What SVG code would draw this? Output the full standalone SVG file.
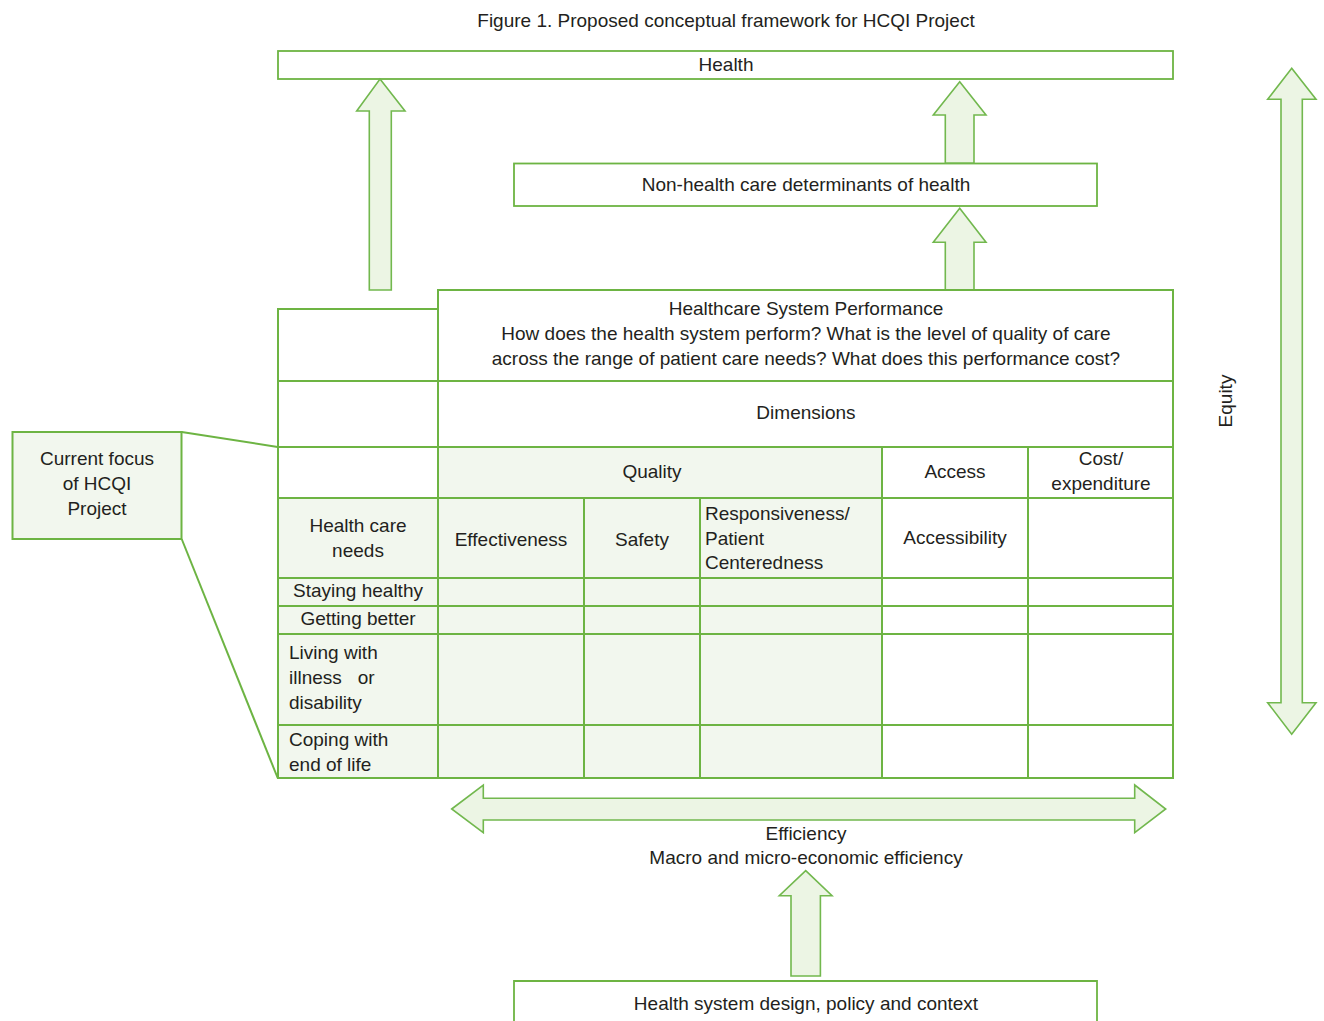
<svg xmlns="http://www.w3.org/2000/svg" width="1324" height="1021" viewBox="0 0 1324 1021">
<style>
text{font-family:"Liberation Sans",Arial,sans-serif;font-size:19px;fill:#231f20}
.c{text-anchor:middle}
.box{fill:#fff;stroke:#6db443;stroke-width:1.8}
.cell{fill:#f2f7ee;stroke:#6db443;stroke-width:2}
.wcell{fill:#fff;stroke:#6db443;stroke-width:2}
.arr{fill:#ecf5e4;stroke:#72b84e;stroke-width:1.6;stroke-linejoin:miter}
.ln{fill:none;stroke:#6db443;stroke-width:2}
</style>
<rect width="1324" height="1021" fill="#fff"/>
<text class="c" x="726" y="27">Figure 1. Proposed conceptual framework for HCQI Project</text>

<g id="health"><rect class="box" x="278" y="51" width="895" height="28"/><text class="c" x="726" y="71">Health</text></g>
<g id="nonhealth"><rect class="box" x="514" y="163.5" width="583" height="42.5"/><text class="c" x="806" y="191">Non-health care determinants of health</text></g>

<g id="connectors">
<polygon class="arr" points="380,79 405,111 391.3,111 391.3,290 369.3,290 369.3,111 356.7,111"/>
<polygon class="arr" points="959.7,81.7 986,115 974,115 974,163 945.3,163 945.3,115 933.3,115"/>
<polygon class="arr" points="959.7,208.3 986,242.3 974,242.3 974,290 945.3,290 945.3,242.3 933.3,242.3"/>
<polygon class="arr" points="1291.7,68.3 1316,99.3 1302.3,99.3 1302.3,702.7 1316,702.7 1291.7,734.3 1267.7,702.7 1281,702.7 1281,99.3 1267.7,99.3"/>
<polygon class="arr" points="451.7,809 483.3,785 483.3,798.3 1134.7,798.3 1134.7,785 1165.7,809 1134.7,832.7 1134.7,820 483.3,820 483.3,832.7"/>
<polygon class="arr" points="805.7,870.7 832,895.7 820.4,895.7 820.4,976 791,976 791,895.7 779.3,895.7"/>
<polyline class="ln" points="181.7,432 277.7,447"/>
<polyline class="ln" points="181.7,539 277.7,778"/>
</g>

<g id="table">
<rect class="wcell" x="278" y="309" width="160" height="72"/>
<rect class="wcell" x="438" y="290" width="735" height="91"/>
<rect class="wcell" x="278" y="381" width="160" height="66"/>
<rect class="wcell" x="438" y="381" width="735" height="66"/>
<rect class="wcell" x="278" y="447" width="160" height="51"/>
<rect class="cell" x="438" y="447" width="444" height="51"/>
<rect class="wcell" x="882" y="447" width="146" height="51"/>
<rect class="wcell" x="1028" y="447" width="145" height="51"/>
<rect class="cell" x="278" y="498" width="160" height="80"/>
<rect class="cell" x="438" y="498" width="146" height="80"/>
<rect class="cell" x="584" y="498" width="116" height="80"/>
<rect class="cell" x="700" y="498" width="182" height="80"/>
<rect class="wcell" x="882" y="498" width="146" height="80"/>
<rect class="wcell" x="1028" y="498" width="145" height="80"/>
<g>
<rect class="cell" x="278" y="578" width="160" height="28"/><rect class="cell" x="438" y="578" width="146" height="28"/><rect class="cell" x="584" y="578" width="116" height="28"/><rect class="cell" x="700" y="578" width="182" height="28"/><rect class="wcell" x="882" y="578" width="146" height="28"/><rect class="wcell" x="1028" y="578" width="145" height="28"/>
<rect class="cell" x="278" y="606" width="160" height="28"/><rect class="cell" x="438" y="606" width="146" height="28"/><rect class="cell" x="584" y="606" width="116" height="28"/><rect class="cell" x="700" y="606" width="182" height="28"/><rect class="wcell" x="882" y="606" width="146" height="28"/><rect class="wcell" x="1028" y="606" width="145" height="28"/>
<rect class="cell" x="278" y="634" width="160" height="91"/><rect class="cell" x="438" y="634" width="146" height="91"/><rect class="cell" x="584" y="634" width="116" height="91"/><rect class="cell" x="700" y="634" width="182" height="91"/><rect class="wcell" x="882" y="634" width="146" height="91"/><rect class="wcell" x="1028" y="634" width="145" height="91"/>
<rect class="cell" x="278" y="725" width="160" height="53"/><rect class="cell" x="438" y="725" width="146" height="53"/><rect class="cell" x="584" y="725" width="116" height="53"/><rect class="cell" x="700" y="725" width="182" height="53"/><rect class="wcell" x="882" y="725" width="146" height="53"/><rect class="wcell" x="1028" y="725" width="145" height="53"/>
</g>
<text class="c" x="806" y="315">Healthcare System Performance</text>
<text class="c" x="806" y="340">How does the health system perform? What is the level of quality of care</text>
<text class="c" x="806" y="365">across the range of patient care needs? What does this performance cost?</text>
<text class="c" x="806" y="419">Dimensions</text>
<text class="c" x="652" y="478">Quality</text>
<text class="c" x="955" y="478">Access</text>
<text class="c" x="1101" y="465">Cost/</text>
<text class="c" x="1101" y="490">expenditure</text>
<text class="c" x="358" y="532">Health care</text>
<text class="c" x="358" y="557">needs</text>
<text class="c" x="511" y="546">Effectiveness</text>
<text class="c" x="642" y="546">Safety</text>
<text x="705" y="520">Responsiveness/</text>
<text x="705" y="545">Patient</text>
<text x="705" y="569">Centeredness</text>
<text class="c" x="955" y="544">Accessibility</text>
<text class="c" x="358" y="597">Staying healthy</text>
<text class="c" x="358" y="625">Getting better</text>
<text x="289" y="659">Living with</text>
<text x="289" y="684" xml:space="preserve">illness   or</text>
<text x="289" y="709">disability</text>
<text x="289" y="746">Coping with</text>
<text x="289" y="771">end of life</text>
</g>

<g id="focus"><rect class="cell" x="12.5" y="432" width="169" height="107"/>
<text class="c" x="97" y="465">Current focus</text><text class="c" x="97" y="490">of HCQI</text><text class="c" x="97" y="515">Project</text></g>

<g id="equity"><text class="c" transform="translate(1232,401) rotate(-90)">Equity</text></g>
<g id="efficiency"><text class="c" x="806" y="840">Efficiency</text><text class="c" x="806" y="864">Macro and micro-economic efficiency</text></g>
<g id="design"><path class="box" d="M514,1022 V981 H1097 V1022"/><text class="c" x="806" y="1010">Health system design, policy and context</text></g>
</svg>
